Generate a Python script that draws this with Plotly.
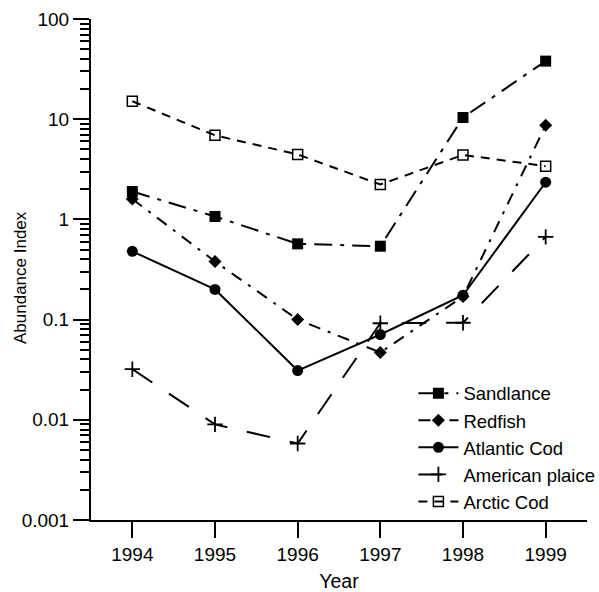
import plotly.graph_objects as go

years = [1994, 1995, 1996, 1997, 1998, 1999]
sandlance = [1.9, 1.07, 0.57, 0.54, 10.4, 38]
redfish = [1.6, 0.38, 0.10, 0.047, 0.17, 8.7]
atlantic_cod = [0.48, 0.20, 0.031, 0.071, 0.175, 2.35]
american_plaice = [0.032, 0.0090, 0.0058, 0.092, 0.093, 0.67]
arctic_cod = [15.1, 6.9, 4.45, 2.23, 4.4, 3.4]

y_tickvals = [0.001, 0.01, 0.1, 1, 10, 100]
y_ticktext = ["0.001", "0.01", "0.1", "1", "10", "100"]
minor_vals = [m * 10.0 ** e for e in range(-3, 2) for m in range(2, 10)]

FONT = "Liberation Sans, Arial, sans-serif"

series = [
    ("Sandlance", sandlance, dict(symbol="square", size=11, color="black"), "18px,8px,4px,8px"),
    ("Redfish", redfish, dict(symbol="diamond", size=10, color="black"), "12px,8px,3px,8px"),
    ("Atlantic Cod", atlantic_cod, dict(symbol="circle", size=11, color="black"), "solid"),
    ("American plaice", american_plaice,
     dict(symbol="cross-thin", size=11, color="black", line=dict(width=1.8, color="black")), "24px,20px"),
    ("Arctic Cod", arctic_cod,
     dict(symbol="square-open", size=10, color="black", line=dict(width=1.5, color="black")), "9px,7px"),
]

fig = go.Figure()
for name, vals, marker, dash in series:
    fig.add_trace(go.Scatter(
        x=years, y=vals, name=name, mode="lines+markers",
        line=dict(color="black", width=2, dash=dash),
        marker=marker,
    ))

fig.update_layout(
    width=599, height=592,
    margin=dict(l=91, r=12, t=19, b=72, autoexpand=False),
    paper_bgcolor="white", plot_bgcolor="white",
    font=dict(family=FONT, size=19, color="black"),
    showlegend=True,
    legend=dict(
        x=0.65, y=0.29, xanchor="left", yanchor="top",
        bgcolor="rgba(0,0,0,0)", borderwidth=0,
        font=dict(family=FONT, size=18.5, color="black"),
        tracegroupgap=0, itemwidth=40,
    ),
    annotations=[dict(
        text="Abundance Index", textangle=-90, showarrow=False,
        xref="paper", yref="paper", x=0, y=0.483,
        xanchor="center", yanchor="middle", xshift=-71,
        font=dict(family=FONT, size=17, color="black"),
    )],
)

fig.update_xaxes(
    range=[1993.5, 1999.5], tickvals=years, ticktext=[str(y) for y in years],
    showline=True, linecolor="black", linewidth=2,
    ticks="outside", ticklen=16, tickwidth=2, tickcolor="black",
    showgrid=False, zeroline=False, automargin=False,
    title=dict(text="Year", font=dict(family=FONT, size=19.5), standoff=12),
)
fig.update_yaxes(
    type="log", range=[-3, 2],
    tickvals=y_tickvals, ticktext=y_ticktext,
    showline=True, linecolor="black", linewidth=2,
    ticks="outside", ticklen=16, tickwidth=2, tickcolor="black",
    minor=dict(tickvals=minor_vals, ticks="outside", ticklen=9, tickwidth=2, tickcolor="black", showgrid=False),
    showgrid=False, zeroline=False, automargin=False,
)

fig.write_html("out.html")
